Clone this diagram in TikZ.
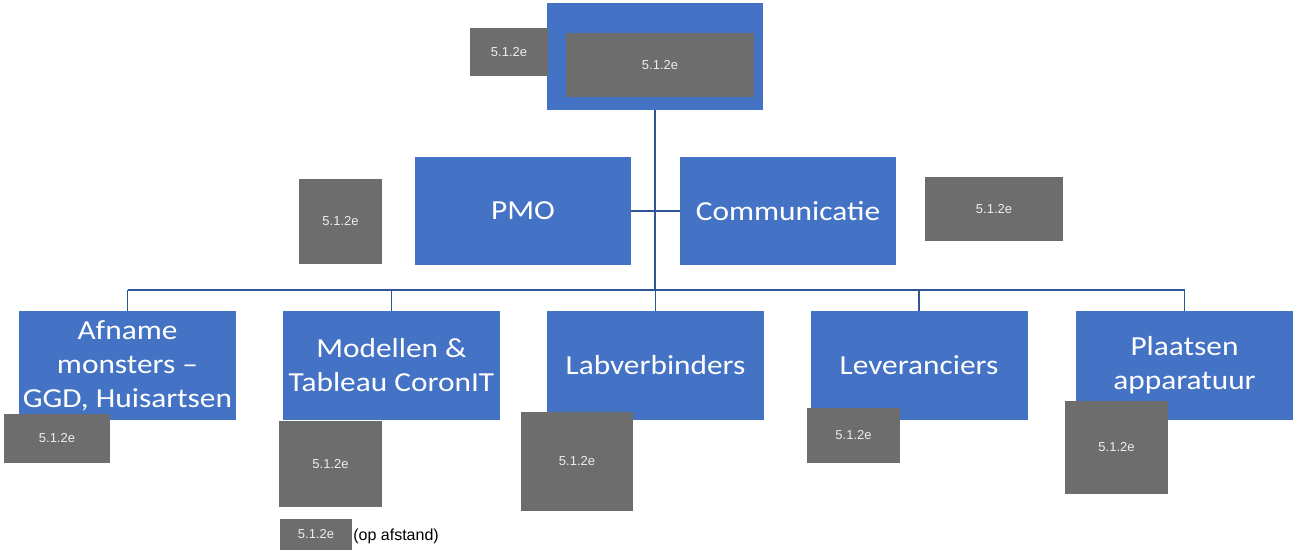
\documentclass[tikz,border=0pt]{standalone}
\usepackage{fontspec}
\setmainfont{Liberation Sans}
\newfontfamily\boxfont[FakeStretch=1.14]{Carlito}
\newfontfamily\greyfont{Liberation Sans}
\definecolor{boxblue}{HTML}{4472C4}
\definecolor{boxgrey}{HTML}{6D6D6D}
\definecolor{greytext}{HTML}{EEEEEE}
\definecolor{linkblue}{HTML}{2F5597}
\tikzset{
  bluebox/.style={rectangle, fill=boxblue, draw=none, inner sep=0pt, align=center,
    text=white, font=\boxfont\fontsize{27.5}{34}\selectfont},
  greybox/.style={rectangle, fill=boxgrey, draw=none, inner sep=0pt,
    text=greytext, font=\greyfont\fontsize{13}{15}\selectfont},
  link/.style={draw=linkblue, line width=1.1pt}
}
\begin{document}
\begin{tikzpicture}[x=1pt,y=-1pt]
\useasboundingbox (0,0) rectangle (1294,550);
% top
\node[bluebox, minimum width=216pt, minimum height=107pt] (top) at (655,56.5) {};
\node[greybox, minimum width=188pt, minimum height=64pt] (topin) at (660,65) {5.1.2e};
\node[greybox, minimum width=78pt, minimum height=48pt] (topleft) at (509,52) {5.1.2e};
% middle
\node[bluebox, minimum width=216pt, minimum height=108pt] (pmo) at (523,211) {PMO};
\node[bluebox, minimum width=216pt, minimum height=108pt] (comm) at (788,211) {Communicatie};
\node[greybox, minimum width=83pt, minimum height=85pt] (pmog) at (340.5,221.5) {5.1.2e};
\node[greybox, minimum width=138pt, minimum height=64pt] (commg) at (994,209) {5.1.2e};
% bottom
\node[bluebox, minimum width=217pt, minimum height=109pt] (afname) at (127.5,365.5) {Afname\\monsters –\\GGD, Huisartsen};
\node[bluebox, minimum width=217pt, minimum height=109pt] (modellen) at (391.5,365.5) {Modellen \&\\Tableau CoronIT};
\node[bluebox, minimum width=217pt, minimum height=109pt] (lab) at (655.5,365.5) {Labverbinders};
\node[bluebox, minimum width=217pt, minimum height=109pt] (lev) at (919,365.5) {Leveranciers};
\node[bluebox, minimum width=217pt, minimum height=109pt] (pla) at (1184.5,365.5) {Plaatsen\\apparatuur};
% grey boxes at bottom
\node[greybox, minimum width=106pt, minimum height=49pt] (afnameg) at (57,438.5) {5.1.2e};
\node[greybox, minimum width=103pt, minimum height=86pt] (modg) at (330.5,464) {5.1.2e};
\node[greybox, minimum width=72pt, minimum height=31pt] (opg) at (316,534.5) {5.1.2e};
\node[anchor=west, inner sep=0pt, font=\fontsize{16}{18}\selectfont] (optext) at ([xshift=1pt,yshift=-2pt]opg.east) {(op afstand)};
\node[greybox, minimum width=112pt, minimum height=99pt] (labg) at (577,461.5) {5.1.2e};
\node[greybox, minimum width=93pt, minimum height=55pt] (levg) at (853.5,435.5) {5.1.2e};
\node[greybox, minimum width=103pt, minimum height=93pt] (plag) at (1116.5,447.5) {5.1.2e};
% connectors
\coordinate (busL) at (127.5,290);
\coordinate (busR) at (1184.5,290);
\path[link] (top.south) -- (top.south |- busL);
\path[link] (pmo.east) -- (comm.west);
\path[link] (busL) -- (busR);
\path[link] (afname.north) -- (afname.north |- busL);
\path[link] (modellen.north) -- (modellen.north |- busL);
\path[link] (lab.north) -- (lab.north |- busL);
\path[link] (lev.north) -- (lev.north |- busL);
\path[link] (pla.north) -- (pla.north |- busL);
\end{tikzpicture}
\end{document}
